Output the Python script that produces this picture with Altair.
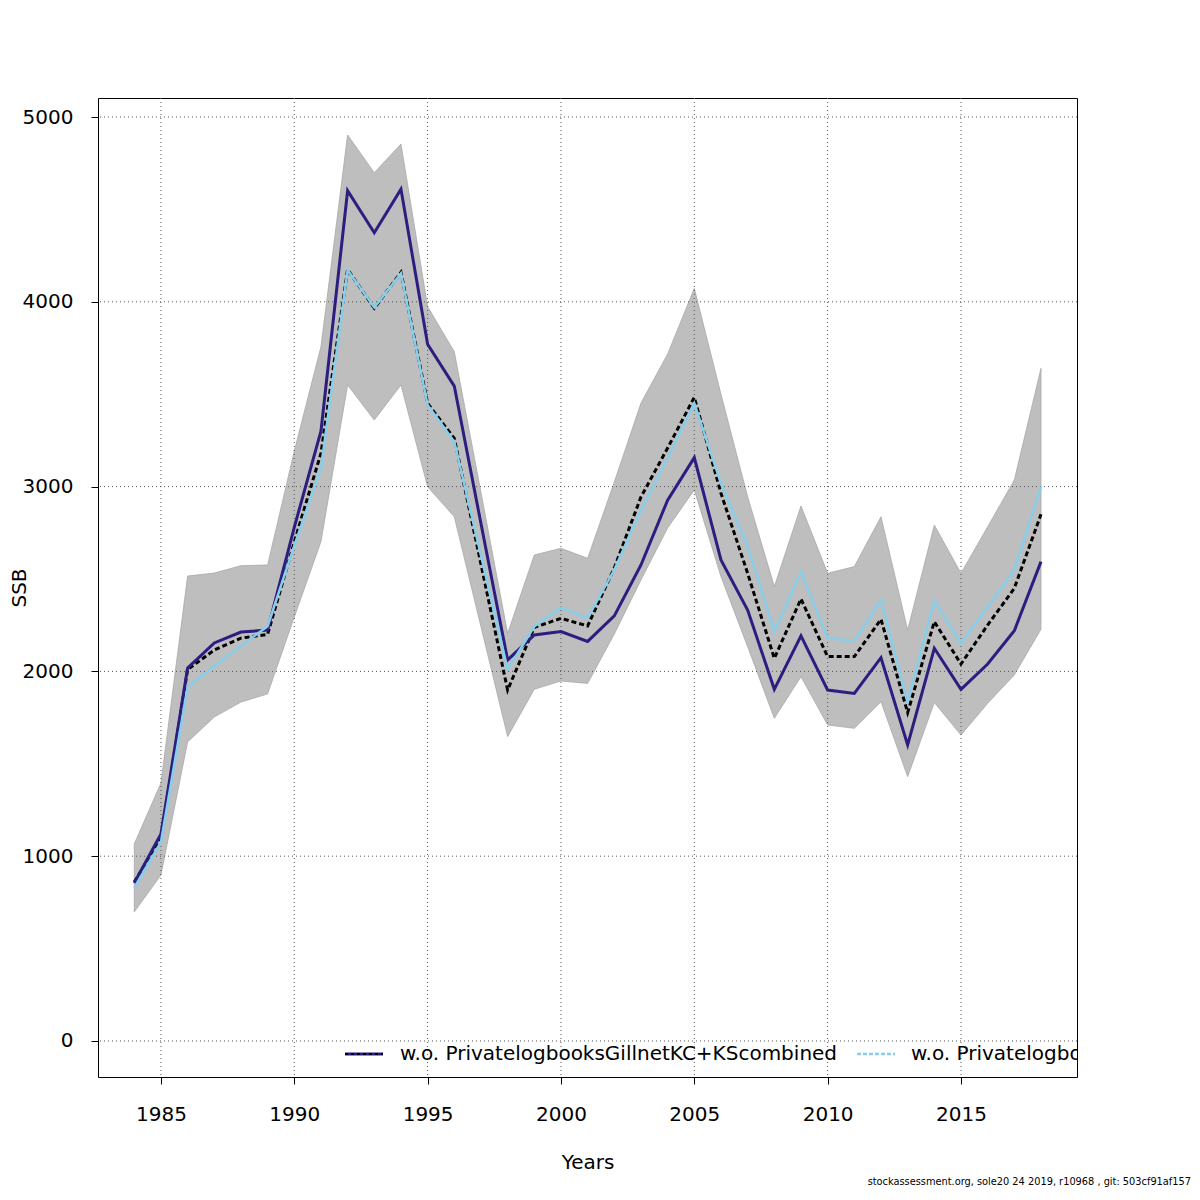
import altair as alt
import pandas as pd

years = list(range(1984, 2019))

ssb_base = [860, 1098, 2010, 2116, 2180, 2200, 2700, 3180, 4175, 3965, 4160, 3450, 3261, 2580, 1899,
            2238, 2287, 2246, 2560, 2944, 3209, 3483, 2964, 2531, 2071, 2392, 2080, 2080, 2282, 1777,
            2269, 2040, 2251, 2450, 2850]

ssb_wo_gillnet = [855, 1120, 2018, 2154, 2213, 2224, 2780, 3300, 4601, 4374, 4610, 3770, 3544, 2800, 2062,
                  2197, 2216, 2162, 2300, 2576, 2927, 3157, 2603, 2332, 1903, 2192, 1899, 1881, 2074, 1602,
                  2125, 1903, 2040, 2220, 2594]

ssb_wo_private = [828, 1077, 1916, 2029, 2137, 2245, 2680, 3100, 4172, 3970, 4154, 3442, 3243, 2627, 2011,
                  2243, 2345, 2289, 2550, 2873, 3155, 3451, 3018, 2675, 2215, 2540, 2179, 2166, 2386, 1836,
                  2383, 2152, 2350, 2549, 3000]

ci_low = [698, 898, 1618, 1753, 1834, 1878, 2294, 2702, 3550, 3360, 3550, 2999, 2837, 2242, 1647,
          1903, 1948, 1935, 2202, 2495, 2776, 2982, 2513, 2134, 1746, 1971, 1710, 1692, 1836, 1430,
          1831, 1656, 1827, 1981, 2228]

ci_high = [1066, 1396, 2516, 2532, 2572, 2576, 3192, 3757, 4903, 4699, 4854, 3974, 3730, 2968, 2206,
           2630, 2666, 2612, 3025, 3452, 3718, 4073, 3500, 2945, 2459, 2895, 2531, 2567, 2837, 2224,
           2792, 2531, 2783, 3036, 3640]

x_ticks = [1985, 1990, 1995, 2000, 2005, 2010, 2015]
y_ticks = [0, 1000, 2000, 3000, 4000, 5000]

legend_labels = ["w.o. PrivatelogbooksGillnetKC+KScombined", "w.o. Privatelogbooks"]
footer = "stockassessment.org, sole20 24 2019, r10968 , git: 503cf91af157"

df = pd.DataFrame({
    "year": years,
    "base": ssb_base,
    "gill": ssb_wo_gillnet,
    "priv": ssb_wo_private,
    "low": ci_low,
    "high": ci_high,
})

FONT = "DejaVu Sans"
xs = alt.Scale(domain=[1982.64, 2019.35], nice=False, zero=False)
ys = alt.Scale(domain=[-195, 5103], nice=False, zero=False)

x_axis = alt.Axis(values=x_ticks, format="d", title="Years", grid=False, domain=False,
                  tickSize=7, tickColor="black", tickWidth=1,
                  labelFontSize=20, labelFont=FONT, labelColor="black", labelPadding=20,
                  titleFontSize=20, titleFont=FONT, titleFontWeight="normal", titleColor="black",
                  titleX=489.5, titleY=85, titleAlign="center", titleBaseline="middle")
y_axis = alt.Axis(values=y_ticks, format="d", title="SSB", grid=False, domain=False,
                  tickSize=7, tickColor="black", tickWidth=1,
                  labelFontSize=20, labelFont=FONT, labelColor="black", labelPadding=18,
                  titleFontSize=20, titleFont=FONT, titleFontWeight="normal", titleColor="black",
                  titleX=-79, titleY=489.5, titleAngle=270, titleAlign="center", titleBaseline="middle")


def X(field):
    return alt.X(field, scale=xs, axis=x_axis, title="Years")


def Y(field):
    return alt.Y(field, scale=ys, axis=y_axis, title="SSB")


band = alt.Chart(df).mark_area(color="#bebebe", stroke="#a8a8a8", strokeWidth=0.8, opacity=1).encode(
    x=X("year:Q"), y=Y("low:Q"), y2="high:Q",
)

grid_v = alt.Chart(pd.DataFrame({"x": x_ticks})).mark_rule(
    color="#555555", strokeWidth=1, strokeDash=[1, 3]).encode(x=X("x:Q"))
grid_h = alt.Chart(pd.DataFrame({"y": y_ticks})).mark_rule(
    color="#555555", strokeWidth=1, strokeDash=[1, 3]).encode(y=Y("y:Q"))

line_base = alt.Chart(df).mark_line(color="black", strokeWidth=3, strokeDash=[5, 3]).encode(
    x=X("year:Q"), y=Y("base:Q"))
line_gill = alt.Chart(df).mark_line(color="#2c1e80", strokeWidth=3).encode(
    x=X("year:Q"), y=Y("gill:Q"))
line_priv = alt.Chart(df).mark_line(color="#87ceeb", strokeWidth=2.5).encode(
    x=X("year:Q"), y=Y("priv:Q"))

one = pd.DataFrame({"k": [0]})
key1 = alt.Chart(one).mark_rule(color="#2c1e80", strokeWidth=3).encode(
    x=alt.value(247), x2=alt.value(285), y=alt.value(956))
key1b = alt.Chart(one).mark_rule(color="black", strokeWidth=2, strokeDash=[3, 3]).encode(
    x=alt.value(247), x2=alt.value(285), y=alt.value(956))
key2 = alt.Chart(one).mark_rule(color="#87ceeb", strokeWidth=2.5, strokeDash=[4, 2]).encode(
    x=alt.value(759), x2=alt.value(797), y=alt.value(956))
text1 = alt.Chart(pd.DataFrame({"label": [legend_labels[0]]})).mark_text(
    align="left", baseline="middle", fontSize=20, font=FONT, color="black", clip=True).encode(
    x=alt.value(302), y=alt.value(956), text="label:N")
text2 = alt.Chart(pd.DataFrame({"label": [legend_labels[1]]})).mark_text(
    align="left", baseline="middle", fontSize=20, font=FONT, color="black", clip=True).encode(
    x=alt.value(813), y=alt.value(956), text="label:N")
foot = alt.Chart(pd.DataFrame({"label": [footer]})).mark_text(
    align="right", baseline="middle", fontSize=9.8, font=FONT, color="black").encode(
    x=alt.value(1093), y=alt.value(1084), text="label:N")

chart = alt.layer(
    band, grid_v, grid_h, line_base, line_gill, line_priv,
    key1, key1b, key2, text1, text2, foot
).properties(
    width=979, height=979,
    padding={"left": 90, "top": 90, "right": 114, "bottom": 114},
    autosize=alt.AutoSizeParams(type="none"),
    background="white",
).configure_view(stroke="black", strokeWidth=1)

chart.save("out.html", embed_options={"renderer": "svg", "actions": False})
